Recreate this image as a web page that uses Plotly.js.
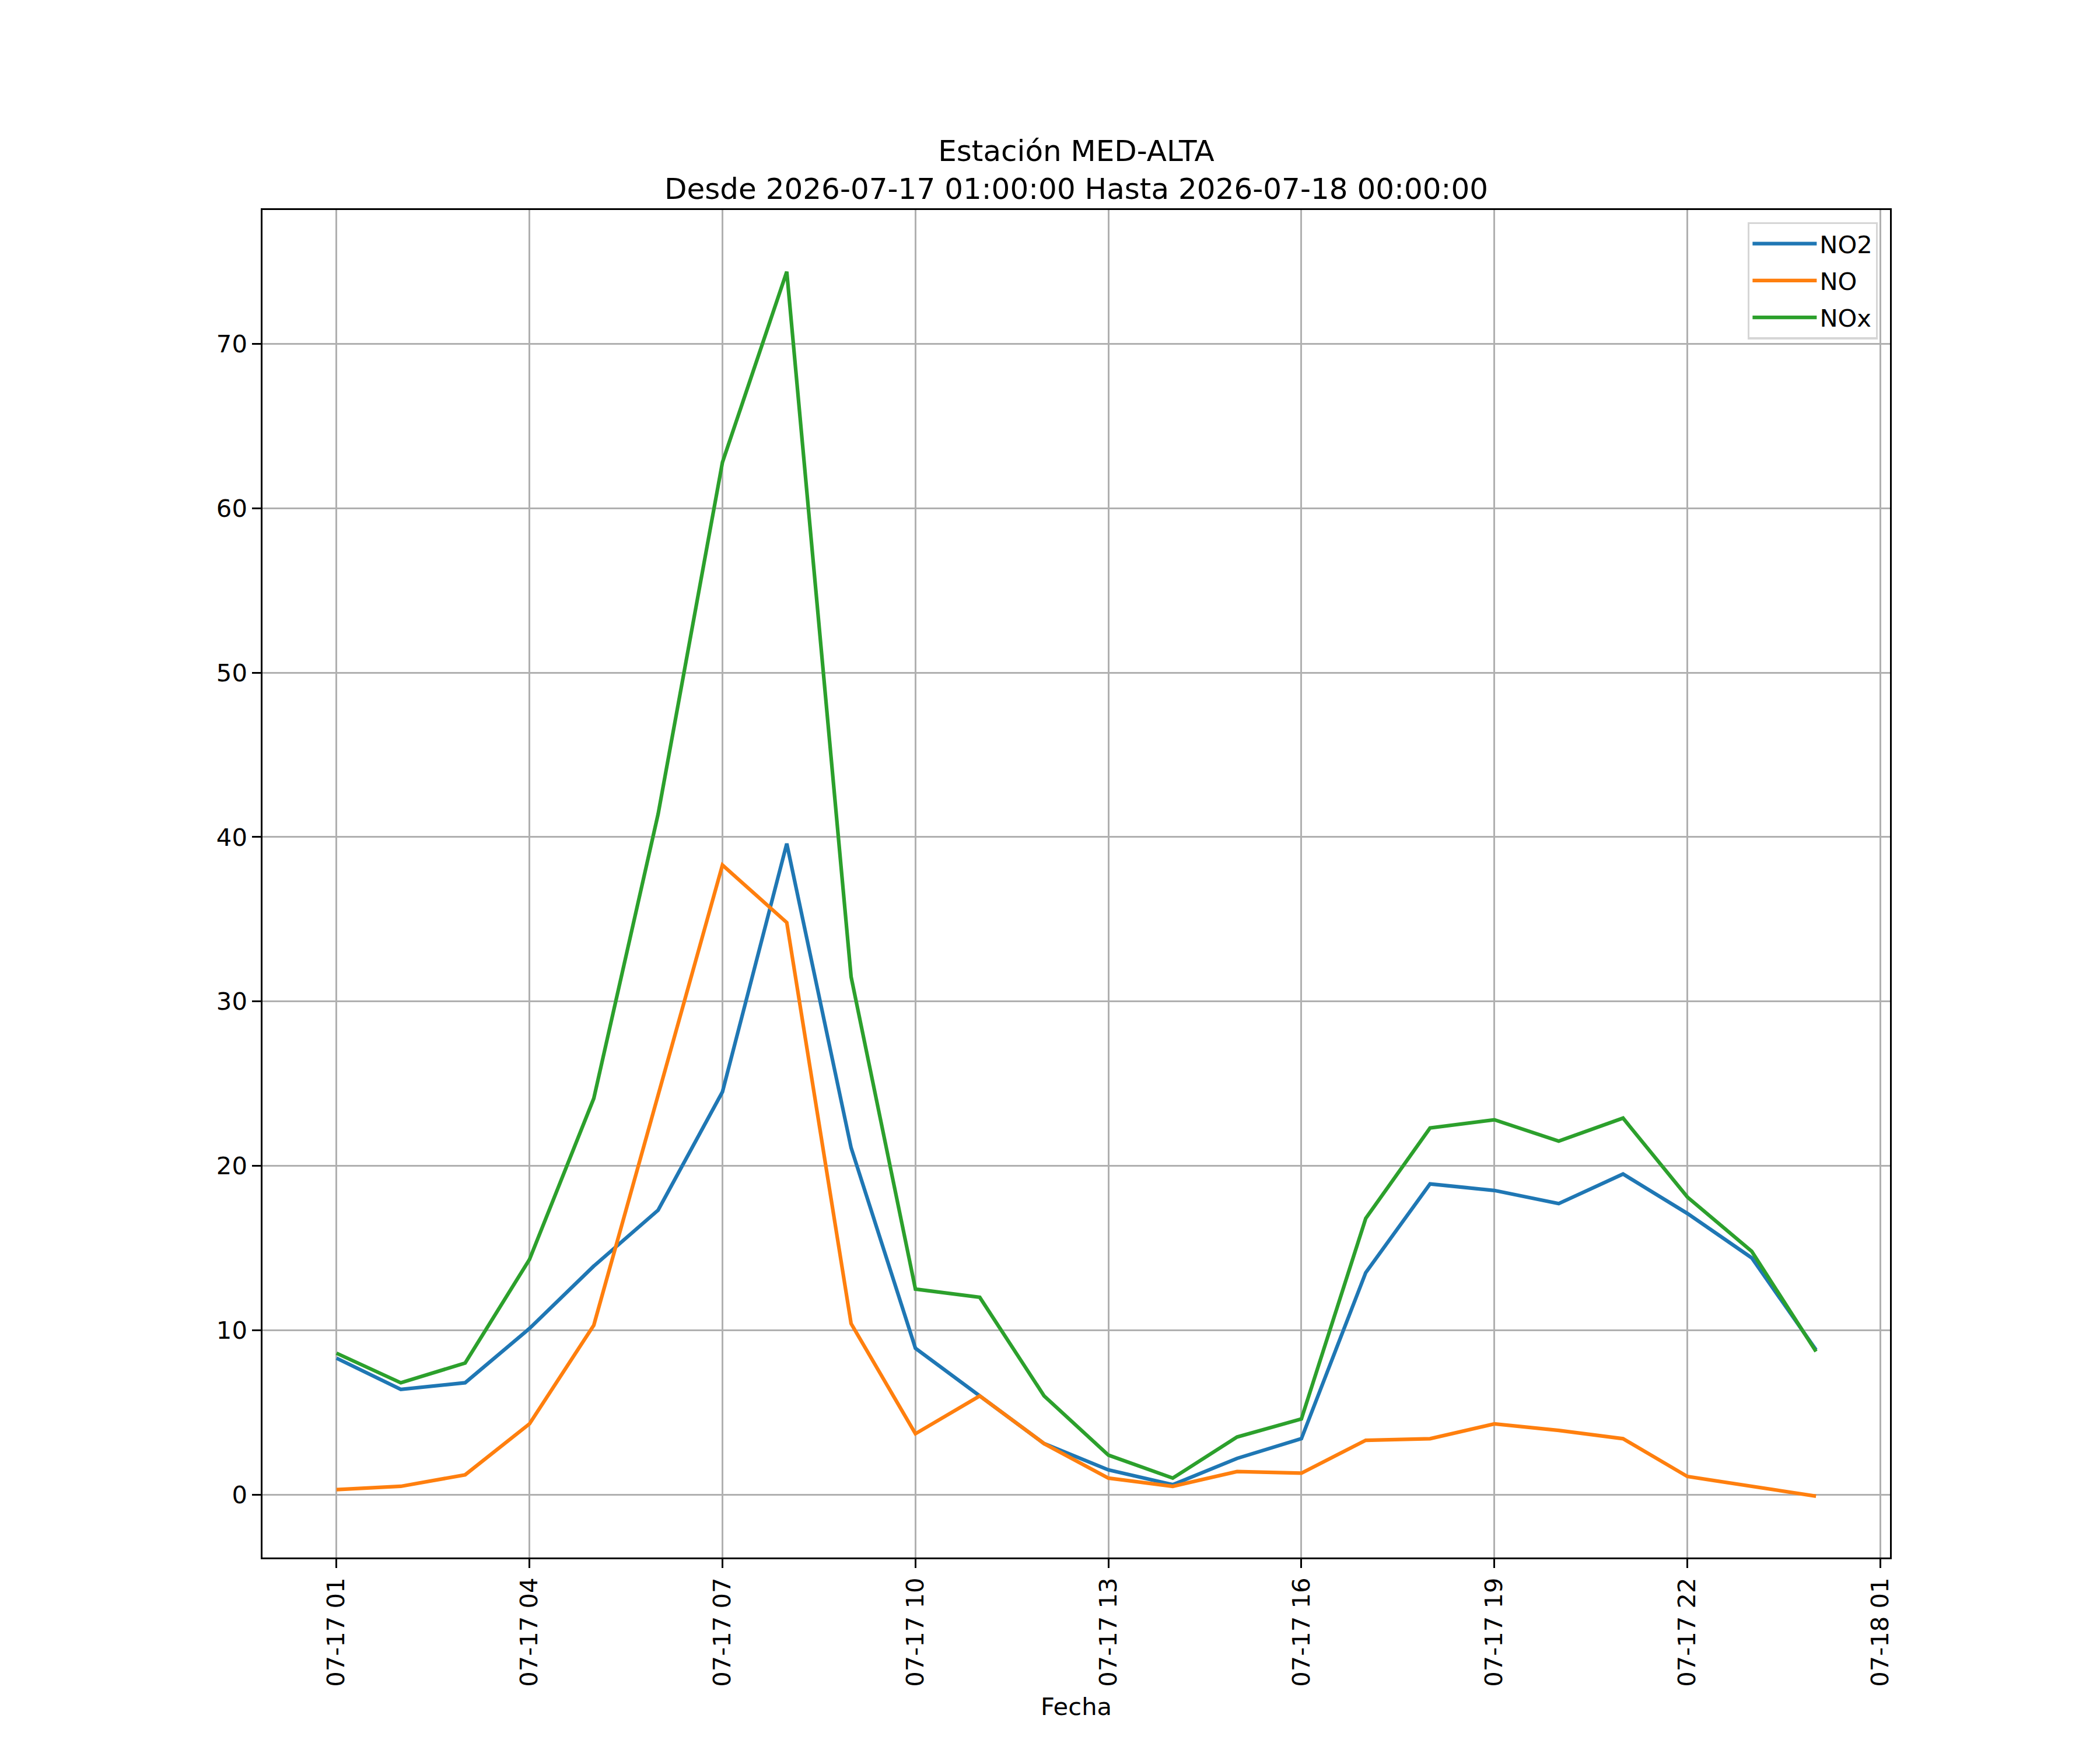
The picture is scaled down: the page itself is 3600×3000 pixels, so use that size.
<!DOCTYPE html>
<html>
<head>
<meta charset="utf-8">
<script src="https://cdn.plot.ly/plotly-3.0.1.min.js"></script>
<style>
  body { margin: 0; background: #fff; }
</style>
</head>
<body>
<div id="myDiv"></div>
<script>
// hourly values, 01:00 to 24:00
var fechas = [
    '2026-07-17 01:00', '2026-07-17 02:00', '2026-07-17 03:00', '2026-07-17 04:00',
    '2026-07-17 05:00', '2026-07-17 06:00', '2026-07-17 07:00', '2026-07-17 08:00',
    '2026-07-17 09:00', '2026-07-17 10:00', '2026-07-17 11:00', '2026-07-17 12:00',
    '2026-07-17 13:00', '2026-07-17 14:00', '2026-07-17 15:00', '2026-07-17 16:00',
    '2026-07-17 17:00', '2026-07-17 18:00', '2026-07-17 19:00', '2026-07-17 20:00',
    '2026-07-17 21:00', '2026-07-17 22:00', '2026-07-17 23:00', '2026-07-18 00:00'
];

var no2 = [8.3, 6.4, 6.8, 10.1, 13.9, 17.3, 24.5, 39.6, 21.1, 8.9, 6.0, 3.1,
           1.5, 0.6, 2.2, 3.4, 13.5, 18.9, 18.5, 17.7, 19.5, 17.1, 14.4, 8.8];

var no = [0.3, 0.5, 1.2, 4.3, 10.3, 24.3, 38.3, 34.8, 10.4, 3.7, 6.0, 3.1,
          1.0, 0.5, 1.4, 1.3, 3.3, 3.4, 4.3, 3.9, 3.4, 1.1, 0.5, -0.1];

var nox = [8.6, 6.8, 8.0, 14.3, 24.1, 41.4, 62.8, 74.4, 31.5, 12.5, 12.0, 6.0,
           2.4, 1.0, 3.5, 4.6, 16.8, 22.3, 22.8, 21.5, 22.9, 18.1, 14.8, 8.7];

var tickFechas = [
    '2026-07-17 01:00', '2026-07-17 04:00', '2026-07-17 07:00', '2026-07-17 10:00',
    '2026-07-17 13:00', '2026-07-17 16:00', '2026-07-17 19:00', '2026-07-17 22:00',
    '2026-07-18 01:00'
];
var tickTextos = ['07-17 01', '07-17 04', '07-17 07', '07-17 10', '07-17 13',
                  '07-17 16', '07-17 19', '07-17 22', '07-18 01'];

var lw = 6.25;

// one legendgroup per trace so tracegroupgap spaces the legend rows
var trace1 = { x: fechas, y: no2, name: 'NO2', type: 'scatter', mode: 'lines',
               legendgroup: 'g1', line: { color: '#1f77b4', width: lw } };
var trace2 = { x: fechas, y: no, name: 'NO', type: 'scatter', mode: 'lines',
               legendgroup: 'g2', line: { color: '#ff7f0e', width: lw } };
var trace3 = { x: fechas, y: nox, name: 'NOx', type: 'scatter', mode: 'lines',
               legendgroup: 'g3', line: { color: '#2ca02c', width: lw } };

var axisCommon = {
    showline: true,
    mirror: true,
    linecolor: '#000000',
    linewidth: 3.3,
    showgrid: true,
    gridcolor: '#b0b0b0',
    gridwidth: 3.3,
    zeroline: false,
    ticks: 'outside',
    ticklen: 14.6,
    tickwidth: 3.3,
    tickcolor: '#000000',
    tickfont: { size: 41.7, color: '#000000' }
};

var layout = {
    width: 3600,
    height: 3000,
    paper_bgcolor: '#ffffff',
    plot_bgcolor: '#ffffff',
    font: { family: 'DejaVu Sans', size: 41.7, color: '#000000' },
    margin: { l: 450, r: 360, t: 360, b: 330, pad: 0 },
    title: {
        text: 'Estación MED-ALTA<br>Desde 2026-07-17 01:00:00 Hasta 2026-07-18 00:00:00',
        font: { size: 50, color: '#000000' },
        x: 0.5,
        xref: 'paper',
        y: 0.908,
        yref: 'container',
        yanchor: 'top'
    },
    xaxis: Object.assign({}, axisCommon, {
        type: 'date',
        range: ['2026-07-16 23:51', '2026-07-18 01:09'],
        tickmode: 'array',
        tickvals: tickFechas,
        ticktext: tickTextos,
        tickangle: -90,
        title: { text: 'Fecha', font: { size: 41.7 }, standoff: 20 }
    }),
    yaxis: Object.assign({}, axisCommon, {
        range: [-3.83, 78.15],
        tickmode: 'linear',
        tick0: 0,
        dtick: 10
    }),
    legend: {
        x: 0.9925,
        xanchor: 'right',
        y: 0.991,
        yanchor: 'top',
        bgcolor: 'rgba(255,255,255,0.8)',
        bordercolor: '#d6d6d6',
        borderwidth: 3.3,
        font: { size: 41.7 },
        itemwidth: 110,
        tracegroupgap: 6,
        traceorder: 'grouped'
    },
    showlegend: true
};

Plotly.newPlot('myDiv', [trace1, trace2, trace3], layout, { displayModeBar: false });
</script>
</body>
</html>
